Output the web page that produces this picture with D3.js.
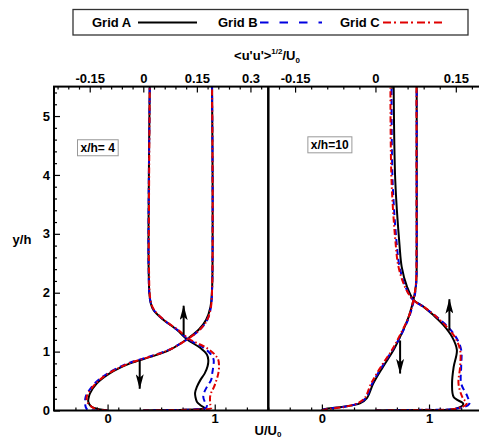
<!DOCTYPE html>
<html><head><meta charset="utf-8">
<script src="https://cdn.jsdelivr.net/npm/d3@7"></script>
<style>
body{margin:0;background:#fff;}
svg{display:block;font-family:"Liberation Sans",Arial,sans-serif;font-weight:bold;}
</style></head>
<body><svg id="c" width="479" height="439"></svg>
<script>
// ---------------- DATA ----------------
const gridNames = ["Grid A", "Grid B", "Grid C"];
const yTicks = [0, 1, 2, 3, 4, 5];
const uTicks = [0, 1];
const rmsTicksLeft = [-0.15, 0, 0.15, 0.3];
const rmsTicksRight = [-0.15, 0, 0.15];
const panelLabels = ["x/h= 4", "x/h=10"];

// x/h = 4 : mean velocity U/U0
const yU4 = [0, 0.02, 0.065, 0.15, 0.23, 0.29, 0.46, 0.63, 0.80, 0.91, 1.03, 1.21, 1.37, 1.54, 1.76, 2.05, 2.7, 4, 5.5];
const uA4 = [0, -0.08, -0.15, -0.18, -0.175, -0.164, -0.10, 0.02, 0.21, 0.40, 0.58, 0.74, 0.85, 0.92, 0.96, 0.975, 0.98, 0.98, 0.975];
const uB4 = [0, -0.19, -0.205, -0.21, -0.205, -0.19, -0.12, 0.00, 0.19, 0.38, 0.57, 0.745, 0.86, 0.93, 0.965, 0.975, 0.98, 0.98, 0.975];
const uC4 = [0, -0.10, -0.15, -0.19, -0.195, -0.18, -0.11, 0.01, 0.20, 0.39, 0.575, 0.745, 0.86, 0.93, 0.965, 0.975, 0.98, 0.98, 0.975];

// x/h = 4 : rms <u'u'>^1/2 / U0
const yR4 = [0, 0.008, 0.02, 0.04, 0.09, 0.15, 0.23, 0.3, 0.4, 0.52, 0.63, 0.75, 0.86, 0.95, 1.06, 1.21, 1.37, 1.54, 1.71, 1.88, 2.4, 3.5, 5.5];
const rA4 = [0, 0.08, 0.15, 0.172, 0.160, 0.150, 0.146, 0.145, 0.150, 0.160, 0.172, 0.180, 0.182, 0.178, 0.160, 0.122, 0.094, 0.056, 0.028, 0.019, 0.015, 0.015, 0.018];
const rB4 = [0, 0.08, 0.15, 0.175, 0.178, 0.172, 0.168, 0.170, 0.178, 0.190, 0.193, 0.196, 0.197, 0.190, 0.170, 0.126, 0.095, 0.057, 0.029, 0.019, 0.015, 0.015, 0.018];
const rC4 = [0, 0.09, 0.16, 0.190, 0.188, 0.187, 0.187, 0.190, 0.198, 0.205, 0.210, 0.212, 0.210, 0.200, 0.178, 0.130, 0.097, 0.058, 0.030, 0.020, 0.016, 0.016, 0.018];

// x/h = 10 : mean velocity U/U0
const yU10 = [0, 0.02, 0.065, 0.12, 0.21, 0.46, 0.74, 1.03, 1.25, 1.59, 1.88, 2.16, 2.72, 4, 5.5];
const uA10 = [0, 0.02, 0.20, 0.355, 0.42, 0.48, 0.57, 0.67, 0.73, 0.81, 0.855, 0.88, 0.885, 0.885, 0.885];
const uB10 = [0, 0.03, 0.21, 0.34, 0.41, 0.47, 0.56, 0.66, 0.73, 0.815, 0.86, 0.88, 0.885, 0.885, 0.885];
const uC10 = [0, 0.05, 0.22, 0.33, 0.40, 0.46, 0.55, 0.655, 0.72, 0.81, 0.855, 0.878, 0.883, 0.883, 0.883];

// x/h = 10 : rms
const yR10 = [0, 0.01, 0.03, 0.11, 0.23, 0.46, 0.74, 1.03, 1.25, 1.45, 1.62, 1.76, 1.88, 2.1, 2.44, 2.8, 3.9, 5.5];
const rA10 = [0, 0.08, 0.15, 0.164, 0.146, 0.143, 0.146, 0.152, 0.143, 0.127, 0.108, 0.090, 0.071, 0.059, 0.049, 0.045, 0.037, 0.034];
const rB10 = [0, 0.08, 0.15, 0.175, 0.172, 0.160, 0.160, 0.160, 0.150, 0.132, 0.110, 0.090, 0.070, 0.056, 0.045, 0.040, 0.032, 0.030];
const rC10 = [0, 0.08, 0.15, 0.170, 0.162, 0.155, 0.158, 0.158, 0.148, 0.130, 0.110, 0.090, 0.070, 0.055, 0.043, 0.038, 0.030, 0.028];

// arrows (U/U0 position, y from, y to)
const arrows4 = [[0.71, 1.28, 1.78], [0.30, 0.85, 0.37]];
const arrows10 = [[1.19, 1.36, 1.89], [0.73, 1.19, 0.63]];

// ---------------- LAYOUT / STYLE ----------------
const pTop = 86.6, pBottom = 410.5, pLeft = 54, pMid = 268.3, pRight = 482.6;
const styles = [
  {color: "#000000", dash: null, legDash: null},
  {color: "#0000e0", dash: "6,4", legDash: "8.5,11"},
  {color: "#e00000", dash: "6,2.5,1.5,2.5", legDash: "8,3,2,4"}
];
const svg = d3.select("#c");
const yS = d3.scaleLinear([0, 5.5], [pBottom, pTop]);

const panels = [
  {x0: pLeft, x1: pMid, uDom: [-0.5, 1.5], rDom: [-0.25, 0.35], rTicks: rmsTicksLeft,
   yU: yU4, us: [uA4, uB4, uC4], yR: yR4, rs: [rA4, rB4, rC4], arrows: arrows4,
   label: panelLabels[0], labelPos: [-0.29, 4.47]},
  {x0: pMid, x1: pRight, uDom: [-0.5, 1.5], rDom: [-0.2, 0.2], rTicks: rmsTicksRight,
   yU: yU10, us: [uA10, uB10, uC10], yR: yR10, rs: [rA10, rB10, rC10], arrows: arrows10,
   label: panelLabels[1], labelPos: [-0.14, 4.52]}
];

const defs = svg.append("defs");
defs.append("marker").attr("id", "ah").attr("viewBox", "0 0 15 8")
  .attr("refX", 14.5).attr("refY", 4).attr("markerWidth", 15).attr("markerHeight", 8)
  .attr("markerUnits", "userSpaceOnUse").attr("orient", "auto")
  .append("path").attr("d", "M0,0 L15,4 L0,8 L3.5,4 Z").attr("fill", "#000");
defs.append("clipPath").attr("id", "plotclip").append("rect")
  .attr("x", pLeft).attr("y", pTop).attr("width", pRight - pLeft).attr("height", pBottom - pTop);

function range(a, b, s) { const out = []; for (let v = a; v <= b + 1e-9; v += s) out.push(+v.toFixed(4)); return out; }

const tickFont = "13px";
function styleAxis(g) {
  g.selectAll(".domain").remove();
  g.selectAll("line").attr("stroke", "#000").attr("stroke-width", 1.2);
  g.selectAll("text").attr("font-size", tickFont).attr("font-weight", "bold").attr("fill", "#000")
    .attr("font-family", "Liberation Sans, Arial, sans-serif");
}

panels.forEach(p => {
  const xu = d3.scaleLinear(p.uDom, [p.x0, p.x1]);
  const xr = d3.scaleLinear(p.rDom, [p.x0, p.x1]);
  p.xu = xu; p.xr = xr;

  const gb = svg.append("g").attr("transform", `translate(0,${pBottom})`);
  gb.call(d3.axisBottom(xu).tickValues(uTicks).tickFormat(d3.format("d")).tickSizeInner(-6).tickSizeOuter(0).tickPadding(3));
  const minorsU = range(p.uDom[0], p.uDom[1], 0.2).filter(v => Math.abs(v - Math.round(v)) > 1e-6 && v > p.uDom[0] + 1e-6);
  gb.append("g").call(d3.axisBottom(xu).tickValues(minorsU).tickFormat("").tickSizeInner(-3).tickSizeOuter(0));

  const gt = svg.append("g").attr("transform", `translate(0,${pTop})`);
  gt.call(d3.axisTop(xr).tickValues(p.rTicks).tickFormat(d => d === 0 ? "0" : String(d)).tickSizeInner(-6).tickSizeOuter(0).tickPadding(4));
  const minorsR = range(-0.3, 0.36, 0.03).filter(v => v > p.rDom[0] + 1e-6 && v < p.rDom[1] - 1e-6 && !p.rTicks.some(t => Math.abs(t - v) < 1e-6));
  gt.append("g").call(d3.axisTop(xr).tickValues(minorsR).tickFormat("").tickSizeInner(-3).tickSizeOuter(0));

  styleAxis(gb); styleAxis(gt);
});

const gl = svg.append("g").attr("transform", `translate(${pLeft},0)`);
gl.call(d3.axisLeft(yS).tickValues(yTicks).tickFormat(d3.format("d")).tickSizeInner(-6).tickSizeOuter(0).tickPadding(4));
gl.append("g").call(d3.axisLeft(yS).tickValues(range(0, 5.5, 0.2).filter(v => Math.abs(v - Math.round(v)) > 1e-6)).tickFormat("").tickSizeInner(-3).tickSizeOuter(0));
styleAxis(gl);

const plot = svg.append("g").attr("clip-path", "url(#plotclip)");
panels.forEach(p => {
  const lineU = d3.line().x(d => p.xu(d[0])).y(d => yS(d[1])).curve(d3.curveCatmullRom.alpha(0.5));
  const lineR = d3.line().x(d => p.xr(d[0])).y(d => yS(d[1])).curve(d3.curveCatmullRom.alpha(0.5));
  [0, 1, 2].forEach(k => {
    const st = styles[k];
    const du = p.us[k].map((v, j) => [v, p.yU[j]]);
    const dr = p.rs[k].map((v, j) => [v, p.yR[j]]);
    [[du, lineU], [dr, lineR]].forEach(([d, gen]) => {
      plot.append("path").attr("d", gen(d)).attr("fill", "none")
        .attr("stroke", st.color).attr("stroke-width", 2)
        .attr("stroke-dasharray", st.dash).attr("stroke-linejoin", "round");
    });
  });
  p.arrows.forEach(a => {
    plot.append("line").attr("x1", p.xu(a[0])).attr("x2", p.xu(a[0]))
      .attr("y1", yS(a[1])).attr("y2", yS(a[2]))
      .attr("stroke", "#000").attr("stroke-width", 2).attr("marker-end", "url(#ah)");
  });
  const t = svg.append("text").attr("x", p.xu(p.labelPos[0]) + 4).attr("y", yS(p.labelPos[1]) + 4.5)
    .attr("font-size", "12px").attr("fill", "#000").text(p.label);
  const bb = t.node().getBBox();
  svg.insert("rect", () => t.node()).attr("x", bb.x - 3).attr("y", bb.y - 1).attr("width", bb.width + 6).attr("height", bb.height + 2)
    .attr("fill", "#fff").attr("stroke", "#999").attr("stroke-width", 1);
});

svg.append("rect").attr("x", pLeft).attr("y", pTop).attr("width", pRight - pLeft).attr("height", pBottom - pTop)
  .attr("fill", "none").attr("stroke", "#000").attr("stroke-width", 2);
svg.append("line").attr("x1", pMid).attr("x2", pMid).attr("y1", pTop).attr("y2", pBottom)
  .attr("stroke", "#000").attr("stroke-width", 2.5);

const tt = svg.append("text").attr("x", 267).attr("y", 60).attr("text-anchor", "middle").attr("font-size", "13px").attr("fill", "#000");
tt.append("tspan").text("<u'u'>");
tt.append("tspan").attr("font-size", "8px").attr("dy", -6).text("1/2");
tt.append("tspan").attr("dy", 6).text("/U");
tt.append("tspan").attr("font-size", "8px").attr("dy", 3).text("0");

const bt = svg.append("text").attr("x", 268).attr("y", 435).attr("text-anchor", "middle").attr("font-size", "13px").attr("fill", "#000");
bt.append("tspan").text("U/U");
bt.append("tspan").attr("font-size", "8px").attr("dy", 2).text("0");

svg.append("text").attr("x", 22).attr("y", 244).attr("text-anchor", "middle").attr("font-size", "13px").attr("fill", "#000").text("y/h");

const lg = svg.append("g");
lg.append("rect").attr("x", 73).attr("y", 9.5).attr("width", 395).attr("height", 25.5)
  .attr("fill", "#fff").attr("stroke", "#333").attr("stroke-width", 1.3);
const legPos = [[92, 138, 197], [218, 260, 322], [340, 383, 443]];
gridNames.forEach((g, k) => {
  const [tx, l0, l1] = legPos[k];
  lg.append("text").attr("x", tx).attr("y", 27).attr("font-size", "13px").attr("fill", "#000").text(g);
  lg.append("line").attr("x1", l0).attr("x2", l1).attr("y1", 22.5).attr("y2", 22.5)
    .attr("stroke", styles[k].color).attr("stroke-width", 2).attr("stroke-dasharray", styles[k].legDash);
});
</script>
</body></html>
